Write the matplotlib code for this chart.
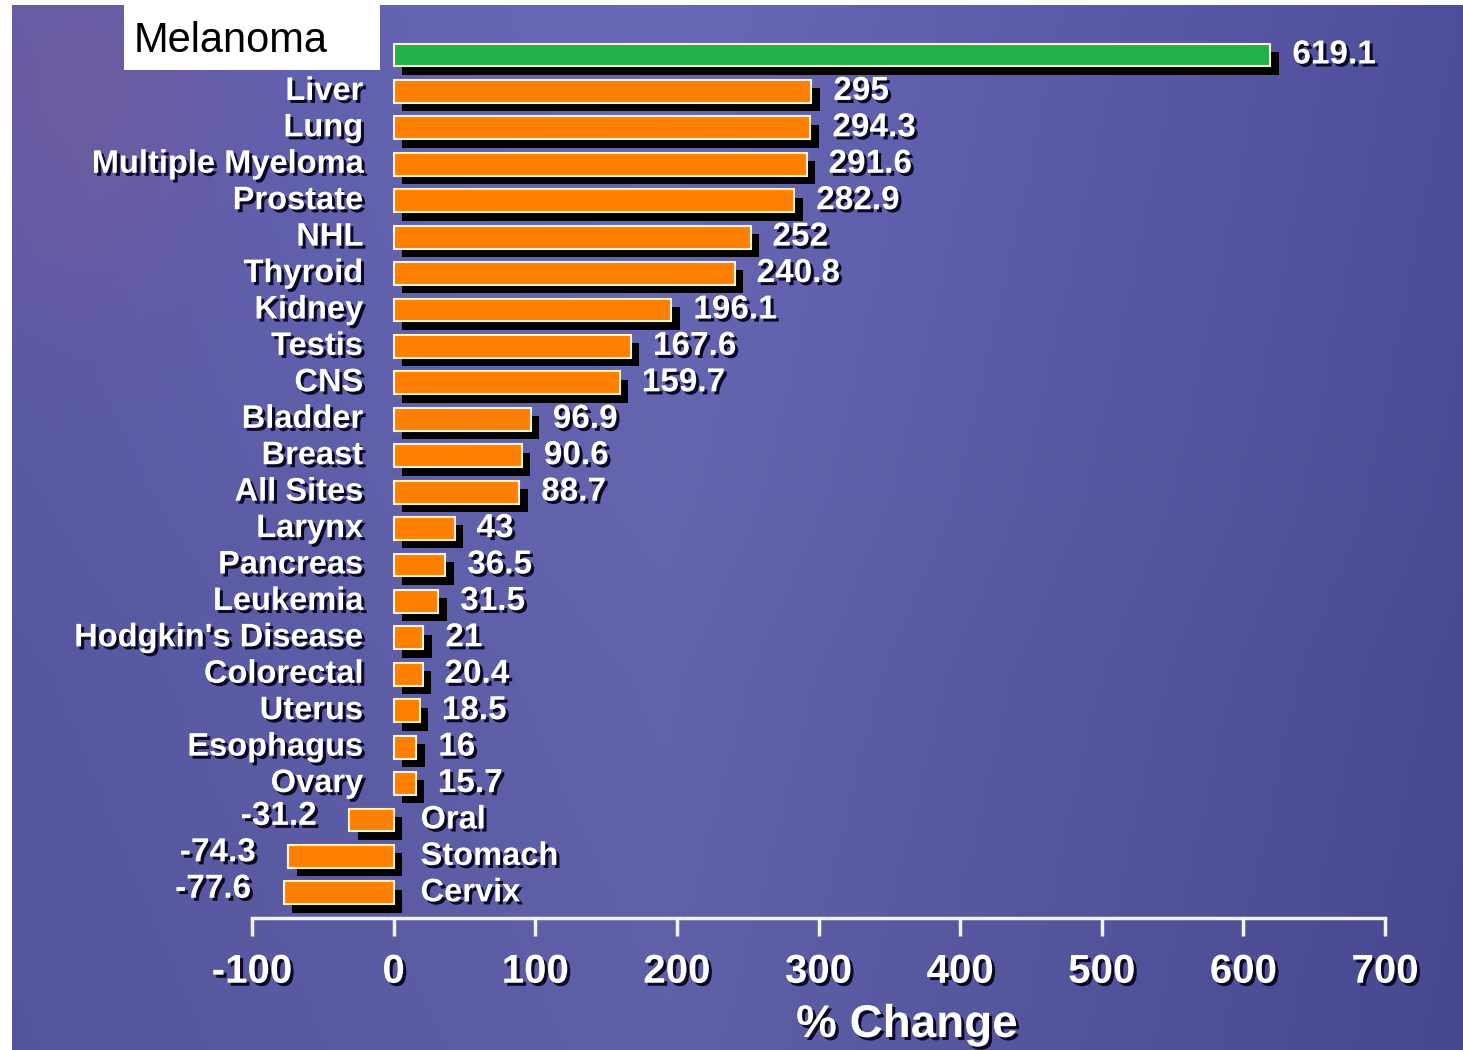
import numpy as np
import matplotlib
matplotlib.use("Agg")
import matplotlib.pyplot as plt
import matplotlib.patheffects as pe
from matplotlib.patches import Rectangle

plt.rcParams["font.family"] = ["Liberation Sans", "DejaVu Sans"]

# data
sites = ["Melanoma", "Liver", "Lung", "Multiple Myeloma", "Prostate", "NHL",
         "Thyroid", "Kidney", "Testis", "CNS", "Bladder", "Breast", "All Sites",
         "Larynx", "Pancreas", "Leukemia", "Hodgkin's Disease", "Colorectal",
         "Uterus", "Esophagus", "Ovary", "Oral", "Stomach", "Cervix"]
pct_change = [619.1, 295, 294.3, 291.6, 282.9, 252, 240.8, 196.1, 167.6, 159.7,
              96.9, 90.6, 88.7, 43, 36.5, 31.5, 21, 20.4, 18.5, 16, 15.7,
              -31.2, -74.3, -77.6]
value_text = ["619.1", "295", "294.3", "291.6", "282.9", "252", "240.8", "196.1",
              "167.6", "159.7", "96.9", "90.6", "88.7", "43", "36.5", "31.5",
              "21", "20.4", "18.5", "16", "15.7", "-31.2", "-74.3", "-77.6"]
xticks = [-100, 0, 100, 200, 300, 400, 500, 600, 700]

W, H = 1463, 1050
fig = plt.figure(figsize=(W / 100, H / 100), dpi=100)
fig.patch.set_facecolor("white")

# slide background (blue/purple gradient)
bg = fig.add_axes([12 / W, 0, 1 - 12 / W, 1 - 5 / H], zorder=-10)
nx, ny = 300, 200
xx = np.linspace(0, 1, nx)[None, :]
yy = np.linspace(0, 1, ny)[:, None]
left_c = np.array([0x5c, 0x5c, 0xaa]) / 255
mid_c = np.array([0x68, 0x68, 0xb6]) / 255
right_c = np.array([0x4e, 0x4e, 0x9c]) / 255
t = xx[..., None]
col = np.where(t < 0.45, left_c + (mid_c - left_c) * (t / 0.45),
               mid_c + (right_c - mid_c) * ((t - 0.45) / 0.55))
col = col * (1 - 0.08 * yy[..., None])
pink = np.exp(-(((xx - 0.04) / 0.1) ** 2 + ((yy - 0.08) / 0.2) ** 2))[..., None]
col = col + pink * (np.array([0x7c, 0x5c, 0x98]) / 255 - col) * 0.5
col = np.ones((ny, nx, 3)) * col
bg.imshow(np.clip(col, 0, 1), aspect="auto", extent=[0, 1, 1, 0])
bg.set_axis_off()

ax = fig.add_axes([252 / W, 1 - 918 / H, (1385 - 252) / W, (918 - 29.5) / H])
ax.set_facecolor("none")

txt_fx = [pe.withSimplePatchShadow(offset=(2.2, -2.2), shadow_rgbFace="#0a0a28", alpha=1)]
bar_fx = [pe.SimplePatchShadow(offset=(6, -6), shadow_rgbFace="black", alpha=1), pe.Normal()]

ypos = np.arange(len(sites))
colors = ["#22b04c"] + ["#ff8000"] * (len(sites) - 1)
bars = ax.barh(ypos, pct_change, height=0.63, color=colors,
               edgecolor="#fff2c8", linewidth=1.5)
for b in bars:
    b.set_path_effects(bar_fx)

for i in range(len(sites)):
    v = pct_change[i]
    if v >= 0:
        ax.text(v + 15.5, ypos[i], value_text[i], ha="left", va="center",
                fontsize=24, fontweight="bold", color="white", path_effects=txt_fx)
        if i > 0:
            ax.text(-21.5, ypos[i], sites[i], ha="right", va="center",
                    fontsize=23.5, fontweight="bold", color="white", path_effects=txt_fx)
    else:
        ax.text(v - 23, ypos[i] - 0.1, value_text[i], ha="right", va="center",
                fontsize=24, fontweight="bold", color="white", path_effects=txt_fx)
        ax.text(19, ypos[i], sites[i], ha="left", va="center",
                fontsize=23.5, fontweight="bold", color="white", path_effects=txt_fx)

ax.set_xlim(-100, 700)
ax.set_ylim(23.69, -0.7)
ax.set_xticks(xticks)
ax.set_xticklabels([str(x) for x in xticks])
ax.set_yticks([])
for s in ["top", "right", "left"]:
    ax.spines[s].set_visible(False)
ax.spines["bottom"].set_color("#f4f4f8")
ax.spines["bottom"].set_linewidth(2.5)
ax.spines["bottom"].set_path_effects(
    [pe.SimplePatchShadow(offset=(1.5, -1.5), shadow_rgbFace="black", alpha=1), pe.Normal()])
ax.tick_params(axis="x", direction="out", length=13, width=2.5, color="#f4f4f8", pad=12)
for lbl in ax.get_xticklabels():
    lbl.set_fontsize(29)
    lbl.set_fontweight("bold")
    lbl.set_color("white")
    lbl.set_path_effects(txt_fx)

fig.text(907 / W, 1 - 1025 / H, "% Change", ha="center", va="center",
         fontsize=33, fontweight="bold", color="white", path_effects=txt_fx)

# white box with the Melanoma caption
fig.patches.append(Rectangle((124 / W, 1 - 70 / H), (380 - 124) / W, 65 / H,
                             transform=fig.transFigure, facecolor="white",
                             edgecolor="none", zorder=5))
fig.text(134 / W, 1 - 41 / H, "Melanoma", ha="left", va="center",
         fontsize=30, color="black", zorder=6)

fig.savefig("out.png", dpi=100)
